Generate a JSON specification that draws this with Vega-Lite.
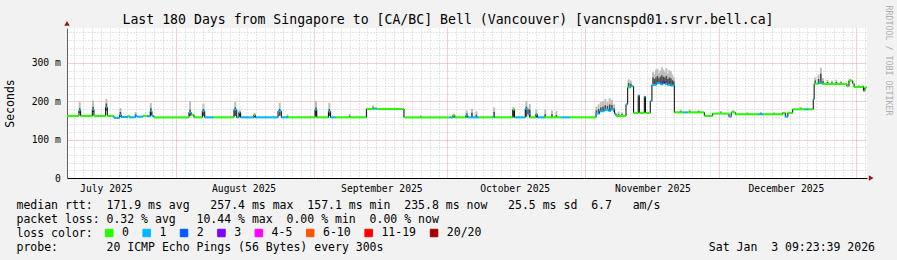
{
"$schema": "https://vega.github.io/schema/vega-lite/v6.json",
"width": 800, "height": 150,
"autosize": {"type": "none"},
"padding": {"left": 67, "top": 28, "right": 30, "bottom": 82},
"background": "#f2f2f2",
"config": {"view": {"fill": "#ffffff", "stroke": null}, "font": "DejaVu Sans Mono"},
"title": {"text": "Last 180 Days from Singapore to [CA/BC] Bell (Vancouver) [vancnspd01.srvr.bell.ca]", "font": "DejaVu Sans Mono", "fontSize": 13.2, "fontWeight": "normal", "color": "#000000", "anchor": "middle", "frame": "group", "dx": -19, "offset": 0, "dy": 28.6, "baseline": "middle"},
"resolve": {"axis": {"y": "independent"}},
"datasets": {
"median": [
{"a":"2025-07-07T09:23","b":"2025-07-10T02:00","v":162,"l":"0"},
{"a":"2025-07-10T02:00","b":"2025-07-10T11:00","v":176,"l":"1"},
{"a":"2025-07-10T11:00","b":"2025-07-13T02:00","v":162,"l":"0"},
{"a":"2025-07-13T02:00","b":"2025-07-13T11:00","v":178,"l":"1"},
{"a":"2025-07-13T11:00","b":"2025-07-16T02:00","v":162,"l":"0"},
{"a":"2025-07-16T02:00","b":"2025-07-16T11:00","v":184,"l":"1"},
{"a":"2025-07-16T11:00","b":"2025-07-17T23:00","v":162,"l":"0"},
{"a":"2025-07-17T23:00","b":"2025-07-19T06:00","v":157,"l":"1"},
{"a":"2025-07-19T06:00","b":"2025-07-19T14:00","v":164,"l":"1"},
{"a":"2025-07-19T14:00","b":"2025-07-21T00:00","v":159,"l":"1"},
{"a":"2025-07-21T00:00","b":"2025-07-21T12:00","v":161,"l":"0"},
{"a":"2025-07-21T12:00","b":"2025-07-22T18:00","v":158,"l":"1"},
{"a":"2025-07-22T18:00","b":"2025-07-23T04:00","v":162,"l":"1"},
{"a":"2025-07-23T04:00","b":"2025-07-24T12:00","v":160,"l":"1"},
{"a":"2025-07-24T12:00","b":"2025-07-25T12:00","v":162,"l":"0"},
{"a":"2025-07-25T12:00","b":"2025-07-26T03:00","v":161,"l":"1"},
{"a":"2025-07-26T03:00","b":"2025-07-26T12:00","v":174,"l":"1"},
{"a":"2025-07-26T12:00","b":"2025-07-26T23:00","v":162,"l":"1"},
{"a":"2025-07-26T23:00","b":"2025-08-03T20:00","v":158,"l":"0"},
{"a":"2025-08-03T20:00","b":"2025-08-04T08:00","v":171,"l":"1"},
{"a":"2025-08-04T08:00","b":"2025-08-04T23:00","v":165,"l":"0"},
{"a":"2025-08-04T23:00","b":"2025-08-06T20:00","v":158,"l":"0"},
{"a":"2025-08-06T20:00","b":"2025-08-07T09:00","v":174,"l":"1"},
{"a":"2025-08-07T09:00","b":"2025-08-09T09:00","v":158,"l":"1"},
{"a":"2025-08-09T09:00","b":"2025-08-13T23:00","v":158,"l":"0"},
{"a":"2025-08-13T23:00","b":"2025-08-14T14:00","v":178,"l":"1"},
{"a":"2025-08-14T14:00","b":"2025-08-15T02:00","v":158,"l":"1"},
{"a":"2025-08-15T02:00","b":"2025-08-15T11:00","v":171,"l":"1"},
{"a":"2025-08-15T11:00","b":"2025-08-18T11:00","v":158,"l":"1"},
{"a":"2025-08-18T11:00","b":"2025-08-18T19:00","v":164,"l":"0"},
{"a":"2025-08-18T19:00","b":"2025-08-23T21:00","v":158,"l":"1"},
{"a":"2025-08-23T21:00","b":"2025-08-24T15:00","v":174,"l":"1"},
{"a":"2025-08-24T15:00","b":"2025-08-25T23:00","v":158,"l":"1"},
{"a":"2025-08-25T23:00","b":"2025-09-01T05:00","v":158,"l":"0"},
{"a":"2025-09-01T05:00","b":"2025-09-01T14:00","v":178,"l":"1"},
{"a":"2025-09-01T14:00","b":"2025-09-04T05:00","v":158,"l":"0"},
{"a":"2025-09-04T05:00","b":"2025-09-04T17:00","v":173,"l":"1"},
{"a":"2025-09-04T17:00","b":"2025-09-05T20:00","v":158,"l":"1"},
{"a":"2025-09-05T20:00","b":"2025-09-12T18:00","v":158,"l":"0"},
{"a":"2025-09-12T18:00","b":"2025-09-14T10:00","v":180,"l":"0"},
{"a":"2025-09-14T10:00","b":"2025-09-15T03:00","v":181,"l":"1"},
{"a":"2025-09-15T03:00","b":"2025-09-21T05:00","v":180,"l":"0"},
{"a":"2025-09-21T05:00","b":"2025-10-01T12:00","v":158,"l":"0"},
{"a":"2025-10-01T12:00","b":"2025-10-02T05:00","v":158,"l":"1"},
{"a":"2025-10-02T05:00","b":"2025-10-02T16:00","v":163,"l":"0"},
{"a":"2025-10-02T16:00","b":"2025-10-05T03:00","v":158,"l":"0"},
{"a":"2025-10-05T03:00","b":"2025-10-05T14:00","v":163,"l":"1"},
{"a":"2025-10-05T14:00","b":"2025-10-08T02:00","v":158,"l":"1"},
{"a":"2025-10-08T02:00","b":"2025-10-11T06:00","v":158,"l":"0"},
{"a":"2025-10-11T06:00","b":"2025-10-11T15:00","v":161,"l":"1"},
{"a":"2025-10-11T15:00","b":"2025-10-15T17:00","v":158,"l":"0"},
{"a":"2025-10-15T17:00","b":"2025-10-16T02:00","v":178,"l":"0"},
{"a":"2025-10-16T02:00","b":"2025-10-18T12:00","v":158,"l":"1"},
{"a":"2025-10-18T12:00","b":"2025-10-19T03:00","v":180,"l":"1"},
{"a":"2025-10-19T03:00","b":"2025-10-19T12:00","v":166,"l":"1"},
{"a":"2025-10-19T12:00","b":"2025-10-20T22:00","v":158,"l":"0"},
{"a":"2025-10-20T22:00","b":"2025-10-21T06:00","v":165,"l":"1"},
{"a":"2025-10-21T06:00","b":"2025-10-22T19:00","v":158,"l":"1"},
{"a":"2025-10-22T19:00","b":"2025-10-26T14:00","v":158,"l":"0"},
{"a":"2025-10-26T14:00","b":"2025-10-28T12:00","v":158,"l":"1"},
{"a":"2025-10-28T12:00","b":"2025-11-03T10:00","v":158,"l":"0"},
{"a":"2025-11-03T10:00","b":"2025-11-04T05:00","v":168,"l":"1"},
{"a":"2025-11-04T05:00","b":"2025-11-05T06:00","v":174,"l":"1"},
{"a":"2025-11-05T06:00","b":"2025-11-06T06:00","v":178,"l":"1"},
{"a":"2025-11-06T06:00","b":"2025-11-06T18:00","v":175,"l":"1"},
{"a":"2025-11-06T18:00","b":"2025-11-07T14:00","v":179,"l":"1"},
{"a":"2025-11-07T14:00","b":"2025-11-07T22:00","v":168,"l":"1"},
{"a":"2025-11-07T22:00","b":"2025-11-10T04:00","v":162,"l":"0"},
{"a":"2025-11-10T04:00","b":"2025-11-10T13:00","v":192,"l":"1"},
{"a":"2025-11-10T13:00","b":"2025-11-11T03:00","v":236,"l":"0"},
{"a":"2025-11-11T03:00","b":"2025-11-11T21:00","v":239,"l":"1"},
{"a":"2025-11-11T21:00","b":"2025-11-12T22:00","v":170,"l":"0"},
{"a":"2025-11-12T22:00","b":"2025-11-13T04:00","v":215,"l":"1"},
{"a":"2025-11-13T04:00","b":"2025-11-14T07:00","v":170,"l":"0"},
{"a":"2025-11-14T07:00","b":"2025-11-14T13:00","v":212,"l":"1"},
{"a":"2025-11-14T13:00","b":"2025-11-15T15:00","v":170,"l":"0"},
{"a":"2025-11-15T15:00","b":"2025-11-16T00:00","v":200,"l":"1"},
{"a":"2025-11-16T00:00","b":"2025-11-17T00:00","v":243,"l":"1"},
{"a":"2025-11-17T00:00","b":"2025-11-18T00:00","v":247,"l":"1"},
{"a":"2025-11-18T00:00","b":"2025-11-18T12:00","v":244,"l":"1"},
{"a":"2025-11-18T12:00","b":"2025-11-18T22:00","v":251,"l":"3"},
{"a":"2025-11-18T22:00","b":"2025-11-19T12:00","v":245,"l":"1"},
{"a":"2025-11-19T12:00","b":"2025-11-20T06:00","v":243,"l":"1"},
{"a":"2025-11-20T06:00","b":"2025-11-21T01:00","v":241,"l":"1"},
{"a":"2025-11-21T01:00","b":"2025-11-23T00:00","v":171,"l":"0"},
{"a":"2025-11-23T00:00","b":"2025-11-24T00:00","v":171,"l":"1"},
{"a":"2025-11-24T00:00","b":"2025-11-27T19:00","v":171,"l":"0"},
{"a":"2025-11-27T19:00","b":"2025-11-29T16:00","v":162,"l":"0"},
{"a":"2025-11-29T16:00","b":"2025-12-03T08:00","v":168,"l":"0"},
{"a":"2025-12-03T08:00","b":"2025-12-03T20:00","v":160,"l":"1"},
{"a":"2025-12-03T20:00","b":"2025-12-04T18:00","v":171,"l":"0"},
{"a":"2025-12-04T18:00","b":"2025-12-10T00:00","v":166,"l":"0"},
{"a":"2025-12-10T00:00","b":"2025-12-11T00:00","v":166,"l":"1"},
{"a":"2025-12-11T00:00","b":"2025-12-15T10:00","v":166,"l":"0"},
{"a":"2025-12-15T10:00","b":"2025-12-16T00:00","v":170,"l":"0"},
{"a":"2025-12-16T00:00","b":"2025-12-16T14:00","v":160,"l":"1"},
{"a":"2025-12-16T14:00","b":"2025-12-17T16:00","v":170,"l":"0"},
{"a":"2025-12-17T16:00","b":"2025-12-20T12:00","v":179,"l":"0"},
{"a":"2025-12-20T12:00","b":"2025-12-21T06:00","v":179,"l":"1"},
{"a":"2025-12-21T06:00","b":"2025-12-22T07:00","v":179,"l":"0"},
{"a":"2025-12-22T07:00","b":"2025-12-22T12:00","v":205,"l":"1"},
{"a":"2025-12-22T12:00","b":"2025-12-23T12:00","v":246,"l":"0"},
{"a":"2025-12-23T12:00","b":"2025-12-24T06:00","v":248,"l":"1"},
{"a":"2025-12-24T06:00","b":"2025-12-29T21:00","v":245,"l":"0"},
{"a":"2025-12-29T21:00","b":"2025-12-30T08:00","v":239,"l":"0"},
{"a":"2025-12-30T08:00","b":"2025-12-31T04:00","v":254,"l":"0"},
{"a":"2025-12-31T04:00","b":"2025-12-31T12:00","v":246,"l":"0"},
{"a":"2025-12-31T12:00","b":"2026-01-02T14:00","v":237,"l":"0"},
{"a":"2026-01-02T14:00","b":"2026-01-02T22:00","v":227,"l":"0"},
{"a":"2026-01-02T22:00","b":"2026-01-03T09:23","v":236,"l":"0"}
],
"smoke": [
{"t":"2025-07-10T06:00","v":170,"m":182,"h":198},
{"t":"2025-07-13T06:00","v":172,"m":186,"h":202},
{"t":"2025-07-16T06:00","v":176,"m":194,"h":206},
{"t":"2025-07-19T10:00","v":160,"m":172,"h":182},
{"t":"2025-07-22T20:00","v":160,"m":166,"h":172},
{"t":"2025-07-26T06:00","v":165,"m":182,"h":196},
{"t":"2025-08-04T02:00","v":162,"m":178,"h":200},
{"t":"2025-08-07T02:00","v":162,"m":180,"h":194},
{"t":"2025-08-14T06:00","v":162,"m":184,"h":198},
{"t":"2025-08-15T06:00","v":160,"m":172,"h":178},
{"t":"2025-08-18T14:00","v":158,"m":164,"h":170},
{"t":"2025-08-24T06:00","v":162,"m":180,"h":196},
{"t":"2025-08-26T00:00","v":158,"m":161,"h":165},
{"t":"2025-09-01T10:00","v":162,"m":184,"h":201},
{"t":"2025-09-04T10:00","v":162,"m":180,"h":196},
{"t":"2025-09-09T00:00","v":158,"m":162,"h":167},
{"t":"2025-09-14T06:00","v":180,"m":184,"h":189},
{"t":"2025-09-25T00:00","v":158,"m":160,"h":163},
{"t":"2025-10-02T10:00","v":158,"m":163,"h":168},
{"t":"2025-10-05T08:00","v":158,"m":168,"h":176},
{"t":"2025-10-06T12:00","v":158,"m":170,"h":180},
{"t":"2025-10-07T12:00","v":158,"m":165,"h":174},
{"t":"2025-10-11T12:00","v":158,"m":172,"h":184},
{"t":"2025-10-15T20:00","v":158,"m":178,"h":185},
{"t":"2025-10-18T18:00","v":160,"m":186,"h":201},
{"t":"2025-10-19T12:00","v":160,"m":178,"h":193},
{"t":"2025-10-21T00:00","v":158,"m":168,"h":179},
{"t":"2025-10-23T00:00","v":158,"m":166,"h":178},
{"t":"2025-10-24T12:00","v":158,"m":166,"h":176},
{"t":"2025-10-25T12:00","v":158,"m":164,"h":174},
{"t":"2025-11-03T12:00","v":168,"m":176,"h":186},
{"t":"2025-11-04T00:00","v":170,"m":180,"h":192},
{"t":"2025-11-04T12:00","v":174,"m":184,"h":198},
{"t":"2025-11-05T00:00","v":174,"m":186,"h":200},
{"t":"2025-11-05T12:00","v":178,"m":190,"h":206},
{"t":"2025-11-06T00:00","v":178,"m":188,"h":198},
{"t":"2025-11-06T12:00","v":176,"m":192,"h":208},
{"t":"2025-11-07T00:00","v":179,"m":190,"h":204},
{"t":"2025-11-07T12:00","v":172,"m":182,"h":192},
{"t":"2025-11-08T12:00","v":162,"m":166,"h":173},
{"t":"2025-11-09T06:00","v":162,"m":166,"h":171},
{"t":"2025-11-10T18:00","v":236,"m":248,"h":257},
{"t":"2025-11-11T06:00","v":239,"m":246,"h":254},
{"t":"2025-11-16T06:00","v":243,"m":262,"h":276},
{"t":"2025-11-16T14:00","v":244,"m":258,"h":270},
{"t":"2025-11-16T22:00","v":245,"m":262,"h":282},
{"t":"2025-11-17T06:00","v":247,"m":266,"h":285},
{"t":"2025-11-17T14:00","v":247,"m":260,"h":274},
{"t":"2025-11-17T22:00","v":246,"m":264,"h":280},
{"t":"2025-11-18T06:00","v":244,"m":268,"h":288},
{"t":"2025-11-18T14:00","v":251,"m":264,"h":282},
{"t":"2025-11-18T22:00","v":248,"m":262,"h":276},
{"t":"2025-11-19T06:00","v":245,"m":266,"h":286},
{"t":"2025-11-19T14:00","v":243,"m":258,"h":272},
{"t":"2025-11-19T22:00","v":243,"m":262,"h":281},
{"t":"2025-11-20T06:00","v":241,"m":260,"h":278},
{"t":"2025-11-20T14:00","v":241,"m":255,"h":270},
{"t":"2025-11-20T22:00","v":241,"m":252,"h":262},
{"t":"2025-11-22T12:00","v":171,"m":174,"h":178},
{"t":"2025-11-24T12:00","v":171,"m":174,"h":178},
{"t":"2025-11-26T12:00","v":171,"m":174,"h":177},
{"t":"2025-12-01T12:00","v":168,"m":171,"h":175},
{"t":"2025-12-04T06:00","v":171,"m":173,"h":177},
{"t":"2025-12-07T12:00","v":166,"m":168,"h":171},
{"t":"2025-12-10T12:00","v":166,"m":168,"h":172},
{"t":"2025-12-13T12:00","v":166,"m":168,"h":171},
{"t":"2025-12-19T12:00","v":179,"m":181,"h":185},
{"t":"2025-12-22T18:00","v":246,"m":254,"h":262},
{"t":"2025-12-23T12:00","v":246,"m":258,"h":270},
{"t":"2025-12-24T00:00","v":248,"m":272,"h":288},
{"t":"2025-12-24T12:00","v":245,"m":252,"h":260},
{"t":"2025-12-25T12:00","v":245,"m":250,"h":256},
{"t":"2025-12-26T12:00","v":245,"m":249,"h":254},
{"t":"2025-12-27T12:00","v":245,"m":250,"h":256},
{"t":"2025-12-28T12:00","v":245,"m":249,"h":253},
{"t":"2025-12-30T12:00","v":254,"m":256,"h":259},
{"t":"2026-01-01T12:00","v":237,"m":239,"h":243},
{"t":"2026-01-02T12:00","v":237,"m":239,"h":242}
]
},
"layer": [
{
"data": {"name": "smoke"},
"mark": {"type": "rule", "color": "#bdbdbd", "strokeWidth": 2},
"encoding": {
"x": {"field": "t", "type": "temporal",
 "scale": {"domain": [{"year":2025,"month":7,"date":7,"hours":9,"minutes":23,"seconds":39},{"year":2026,"month":1,"date":3,"hours":9,"minutes":23,"seconds":39}], "nice": false},
 "axis": {
  "orient": "bottom",
  "tickCount": "day",
  "labelExpr": "date(datum.value) == 15 ? timeFormat(datum.value, '%B %Y') : ''",
  "labelOffset": 5, "labelOverlap": false, "labelFlush": false,
  "labelFont": "DejaVu Sans Mono", "labelFontSize": 9.7, "labelColor": "#000000", "labelPadding": 5, "labelBaseline": "top",
  "ticks": false, "grid": true,
  "gridColor": {"condition": {"test": "date(datum.value) == 1", "value": "#e0a0a0"}, "value": "#cccccc"},
  "gridOpacity": {"condition": {"test": "date(datum.value) % 2 == 1", "value": 1}, "value": 0},
  "gridDash": {"condition": {"test": "date(datum.value) == 1", "value": [1, 1]}, "value": [1, 2]},
  "domainColor": "#000000",
  "title": [
   "median\u00a0rtt:\u00a0\u00a0171.9\u00a0ms\u00a0avg\u00a0\u00a0\u00a0257.4\u00a0ms\u00a0max\u00a0\u00a0157.1\u00a0ms\u00a0min\u00a0\u00a0235.8\u00a0ms\u00a0now\u00a0\u00a0\u00a025.5\u00a0ms\u00a0sd\u00a0\u00a06.7\u00a0\u00a0\u00a0am/s",
   "packet\u00a0loss:\u00a00.32\u00a0%\u00a0avg\u00a0\u00a0\u00a010.44\u00a0%\u00a0max\u00a0\u00a00.00\u00a0%\u00a0min\u00a0\u00a00.00\u00a0%\u00a0now",
   "loss\u00a0color:",
   "probe:\u00a0\u00a0\u00a0\u00a0\u00a0\u00a0\u00a020\u00a0ICMP\u00a0Echo\u00a0Pings\u00a0(56\u00a0Bytes)\u00a0every\u00a0300s\u00a0\u00a0\u00a0\u00a0\u00a0\u00a0\u00a0\u00a0\u00a0\u00a0\u00a0\u00a0\u00a0\u00a0\u00a0\u00a0\u00a0\u00a0\u00a0\u00a0\u00a0\u00a0\u00a0\u00a0\u00a0\u00a0\u00a0\u00a0\u00a0\u00a0\u00a0\u00a0\u00a0\u00a0\u00a0\u00a0\u00a0\u00a0\u00a0\u00a0\u00a0\u00a0\u00a0\u00a0\u00a0\u00a0\u00a0Sat\u00a0Jan\u00a0\u00a03\u00a009:23:39\u00a02026"
  ],
  "titleFont": "DejaVu Sans Mono", "titleFontSize": 11.5, "titleFontWeight": "normal", "titleColor": "#000000",
  "titleAlign": "left", "titleBaseline": "top", "titleX": -51, "titleY": 21.4, "titleLineHeight": 14
 }},
"y": {"field": "v", "type": "quantitative",
 "scale": {"domain": [0, 391], "nice": false, "zero": false},
 "axis": {
  "orient": "left",
  "values": [0,20,40,60,80,100,120,140,160,180,200,220,240,260,280,300,320,340,360,380],
  "labelExpr": "datum.value % 100 == 0 ? (datum.value == 0 ? '0' : datum.value + ' m') : ''",
  "labelFont": "DejaVu Sans Mono", "labelFontSize": 9.7, "labelColor": "#000000", "labelPadding": 6.7, "labelOverlap": false,
  "ticks": false, "grid": true,
  "gridColor": {"condition": {"test": "datum.value % 100 == 0", "value": "#e0a0a0"}, "value": "#cccccc"},
  "gridOpacity": {"condition": {"test": "datum.value == 0", "value": 0}, "value": 1},
  "gridDash": {"condition": {"test": "datum.value % 100 == 0", "value": [1, 1]}, "value": [1, 2]},
  "domainColor": "#606060",
  "title": "Seconds", "titleFont": "DejaVu Sans Mono", "titleFontSize": 11.5, "titleFontWeight": "normal", "titleColor": "#000000",
  "titleAngle": 270, "titleX": -57, "titleY": 75, "titleAlign": "center", "titleBaseline": "middle"
 }},
"y2": {"field": "h"}
}
},
{
"data": {"name": "smoke"},
"mark": {"type": "rule", "color": "#4a4a4a", "strokeWidth": 1.5},
"encoding": {
"x": {"field": "t", "type": "temporal", "scale": {"domain": [{"year":2025,"month":7,"date":7,"hours":9,"minutes":23,"seconds":39},{"year":2026,"month":1,"date":3,"hours":9,"minutes":23,"seconds":39}], "nice": false}},
"y": {"field": "v", "type": "quantitative", "axis": null, "scale": {"domain": [0, 391], "nice": false, "zero": false}},
"y2": {"field": "m"}
}
},
{
"data": {"name": "median"},
"mark": {"type": "line", "interpolate": "step-after", "color": "#000000", "strokeWidth": 1},
"encoding": {
"x": {"field": "a", "type": "temporal", "scale": {"domain": [{"year":2025,"month":7,"date":7,"hours":9,"minutes":23,"seconds":39},{"year":2026,"month":1,"date":3,"hours":9,"minutes":23,"seconds":39}], "nice": false}},
"y": {"field": "v", "type": "quantitative", "scale": {"domain": [0, 391], "nice": false, "zero": false},
 "axis": {"orient": "right", "labels": false, "ticks": false, "domain": false, "grid": false,
  "title": "RRDTOOL / TOBI OETIKER", "titleFont": "DejaVu Sans Mono", "titleFontSize": 8.3, "titleFontWeight": "normal", "titleColor": "#b0b0b0",
  "titleAngle": 90, "titleX": 20, "titleY": 32, "titleAlign": "center", "titleBaseline": "middle"}}
}
},
{
"data": {"name": "median"},
"mark": {"type": "rule", "strokeWidth": 2},
"encoding": {
"x": {"field": "a", "type": "temporal", "scale": {"domain": [{"year":2025,"month":7,"date":7,"hours":9,"minutes":23,"seconds":39},{"year":2026,"month":1,"date":3,"hours":9,"minutes":23,"seconds":39}], "nice": false}},
"x2": {"field": "b"},
"y": {"field": "v", "type": "quantitative", "axis": null, "scale": {"domain": [0, 391], "nice": false, "zero": false}},
"color": {"field": "l", "type": "nominal",
 "scale": {"domain": ["0","1","2","3","4-5","6-10","11-19","20/20"], "range": ["#26ff00","#00b8ff","#0059ff","#7e00ff","#ff00ff","#ff5500","#ff0000","#a10000"]},
 "legend": {"orient": "none", "legendX": 36.5, "legendY": 199, "direction": "horizontal", "title": null,
  "symbolType": "square", "symbolSize": 56, "symbolStrokeColor": "#000000", "symbolStrokeWidth": 1,
  "labelFont": "DejaVu Sans Mono", "labelFontSize": 11.5, "labelColor": "#000000", "labelOffset": 7, "columnPadding": 11.4, "padding": 0, "rowPadding": 0, "labelLimit": 200,
  "encode": {"symbols": {"update": {"fill": {"scale": "color", "field": "value"}, "stroke": {"value": "#000000"}, "strokeWidth": {"value": 1}, "opacity": {"value": 1}}}}
 }}
}
},
{
"data": {"values": [{}]},
"mark": {"type": "point", "shape": "triangle-up", "filled": true, "size": 30, "color": "#8b1a1a", "opacity": 1},
"encoding": {
"x": {"datum": {"year":2025,"month":7,"date":7,"hours":9,"minutes":23,"seconds":39}, "type": "temporal", "scale": {"domain": [{"year":2025,"month":7,"date":7,"hours":9,"minutes":23,"seconds":39},{"year":2026,"month":1,"date":3,"hours":9,"minutes":23,"seconds":39}], "nice": false}},
"y": {"datum": 403, "type": "quantitative", "axis": null, "scale": {"domain": [0, 391], "nice": false, "zero": false}}
}
},
{
"data": {"values": [{}]},
"mark": {"type": "point", "shape": "triangle-right", "filled": true, "size": 30, "color": "#8b1a1a", "opacity": 1},
"encoding": {
"x": {"datum": {"year":2026,"month":1,"date":4,"hours":8}, "type": "temporal", "scale": {"domain": [{"year":2025,"month":7,"date":7,"hours":9,"minutes":23,"seconds":39},{"year":2026,"month":1,"date":3,"hours":9,"minutes":23,"seconds":39}], "nice": false}},
"y": {"datum": 0, "type": "quantitative", "axis": null, "scale": {"domain": [0, 391], "nice": false, "zero": false}}
}
}
]
}
